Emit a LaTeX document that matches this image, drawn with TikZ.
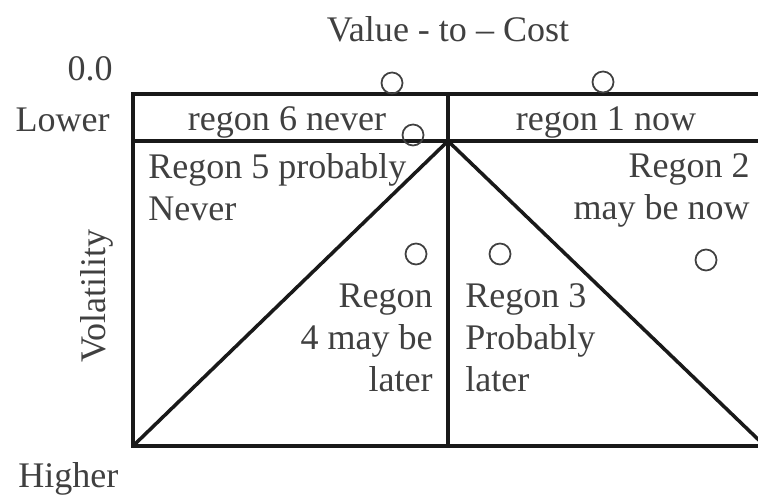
\documentclass[tikz,border=0pt]{standalone}
\usepackage{fontspec}
\setmainfont{Liberation Serif}
\usetikzlibrary{positioning}

\tikzset{
  lbl/.style={text=black!75, inner sep=0pt, font=\fontsize{20.5}{24}\selectfont},
  frame line/.style={line width=2pt, black!90},
  ring/.style={line width=1pt, black!75},
}

\begin{document}
\begin{tikzpicture}
  \useasboundingbox (0,0) rectangle (15.16,9.9);
  \clip (0,0) rectangle (15.16,9.9);

  % Corners of the chart
  \coordinate (tl) at (2.66,8.02);
  \coordinate (ml) at (2.66,7.08);
  \coordinate (bl) at (2.66,0.98);
  \coordinate (apex) at (8.96,7.08);

  % Frame and the two bands
  \draw[frame line] (15.4,8.02) -- (tl) -- (bl) -- (15.4,0.98);
  \draw[frame line] (ml) -- (15.4,7.08);
  \draw[frame line] (8.96,8.02) -- (8.96,0.98);

  % Diagonals
  \draw[frame line] (bl) -- (apex) -- (15.30,0.98);

  % Small circles
  \foreach \x/\y in {7.84/8.24, 12.06/8.26, 8.26/7.20, 8.32/4.82, 10.00/4.82, 14.12/4.70}
    \draw[ring] (\x,\y) circle (0.21);

  % Axis labels
  \node[lbl, anchor=base] (title) at (8.96,9.06) {Value - to -- Cost};
  \node[lbl, anchor=base east] (zero) at (2.26,8.28) {0.0};
  \node[lbl, anchor=base east] (lower) at (2.20,7.26) {Lower};
  \node[lbl, anchor=base west] (higher) at (0.36,0.16) {Higher};
  \node[lbl, rotate=90] (vol) at (1.94,3.98) {Volatility};

  % Region labels (base is the last line)
  \node[lbl, anchor=base] (r6) at (5.74,7.28) {regon 6 never};
  \node[lbl, anchor=base] (r1) at (12.12,7.28) {regon 1 now};
  \node[lbl, anchor=base west, align=left] (r5) at (2.96,5.49) {Regon 5 probably\\Never};
  \node[lbl, anchor=base east, align=right] (r2) at (15.00,5.51) {Regon 2\\may be now};
  \node[lbl, anchor=base east, align=right] (r4) at (8.66,2.07) {Regon\\4 may be\\later};
  \node[lbl, anchor=base west, align=left] (r3) at (9.30,2.07) {Regon 3\\Probably\\later};
\end{tikzpicture}
\end{document}
